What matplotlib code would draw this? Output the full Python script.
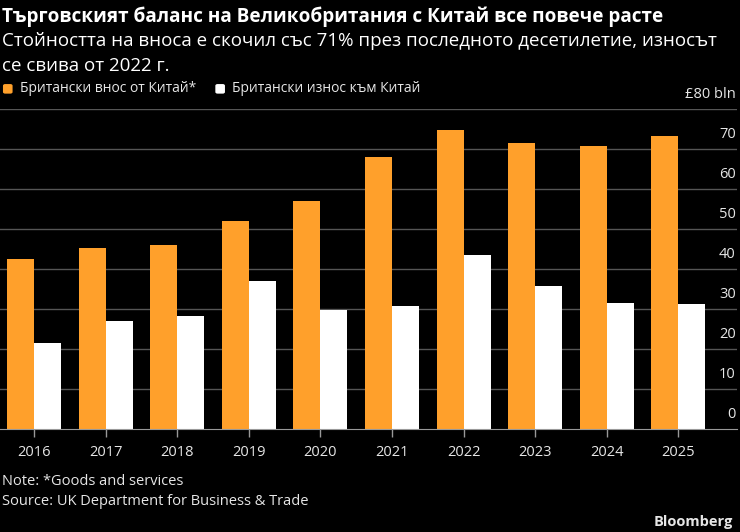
import matplotlib
matplotlib.use("Agg")
import matplotlib.pyplot as plt
from matplotlib import font_manager
from matplotlib.patches import FancyBboxPatch
import numpy as np

# Данни (млрд. паунда), отчетени от графиката
years = ["2016", "2017", "2018", "2019", "2020", "2021", "2022", "2023", "2024", "2025"]
imports = [42.6, 45.4, 46.2, 52.2, 57.2, 68.0, 74.9, 71.5, 70.8, 73.4]
exports = [21.7, 27.2, 28.3, 37.0, 29.8, 30.8, 43.5, 35.8, 31.7, 31.3]
yticks = [0, 10, 20, 30, 40, 50, 60, 70, 80]

names = {f.name for f in font_manager.fontManager.ttflist}
font = "Liberation Sans Narrow" if "Liberation Sans Narrow" in names else "Open Sans"
plt.rcParams["font.family"] = [font, "DejaVu Sans"]

orange = "#ffa02b"
bg = "black"
txt = "#e6e6e6"

fig = plt.figure(figsize=(7.4, 5.32), dpi=100, facecolor=bg)
ax = fig.add_axes([0, 0.193, 0.996, 0.6015], facecolor=bg)

x = np.arange(len(years))
w = 0.377
ax.bar(x - w / 2, imports, w, color=orange, zorder=3)
ax.bar(x + w / 2, exports, w, color="white", zorder=3)

ax.set_xlim(-0.475, 9.82)
ax.set_ylim(0, 80)
ax.set_xticks(x)
ax.set_xticklabels(years, color=txt, fontsize=10.5)
ax.tick_params(axis="x", length=6, width=1, color="#999999", pad=5)
ax.set_yticks([])
for t in yticks:
    if t > 0:
        ax.axhline(t, color="#555555", lw=1, zorder=1)
    label = "£80 bln" if t == 80 else str(t)
    ax.annotate(label, (1, t), xycoords=("axes fraction", "data"),
                xytext=(-1, 5), textcoords="offset points",
                ha="right", va="bottom", color=txt, fontsize=10.5)
for s in ["top", "left", "right"]:
    ax.spines[s].set_visible(False)
ax.spines["bottom"].set_color("#999999")
ax.spines["bottom"].set_zorder(4)

fig.text(0.003, 0.968, "Търговският баланс на Великобритания с Китай все повече расте",
         color="white", fontsize=13.7, fontweight="bold", va="center")
fig.text(0.003, 0.922, "Стойността на вноса е скочил със 71% през последното десетилетие, износът",
         color="white", fontsize=13.5, va="center")
fig.text(0.003, 0.876, "се свива от 2022 г.", color="white", fontsize=13.5, va="center")

# легенда
for xs, lab, col in [(0.004, "Британски внос от Китай*", orange),
                     (0.291, "Британски износ към Китай", "white")]:
    fig.patches.append(FancyBboxPatch((xs, 0.824), 0.013, 0.018,
                                      boxstyle="round,pad=0,rounding_size=0.003",
                                      transform=fig.transFigure, facecolor=col,
                                      edgecolor="none", figure=fig))
    fig.text(xs + 0.023, 0.833, lab, color=txt, fontsize=10, va="center")

fig.text(0.003, 0.094, "Note: *Goods and services", color=txt, fontsize=10.5, va="center")
fig.text(0.003, 0.057, "Source: UK Department for Business & Trade", color=txt, fontsize=10.5, va="center")
fig.text(0.991, 0.019, "Bloomberg", color=txt, fontsize=10.5, fontweight="bold",
         ha="right", va="center")

fig.savefig("out.png", dpi=100, facecolor=bg)
